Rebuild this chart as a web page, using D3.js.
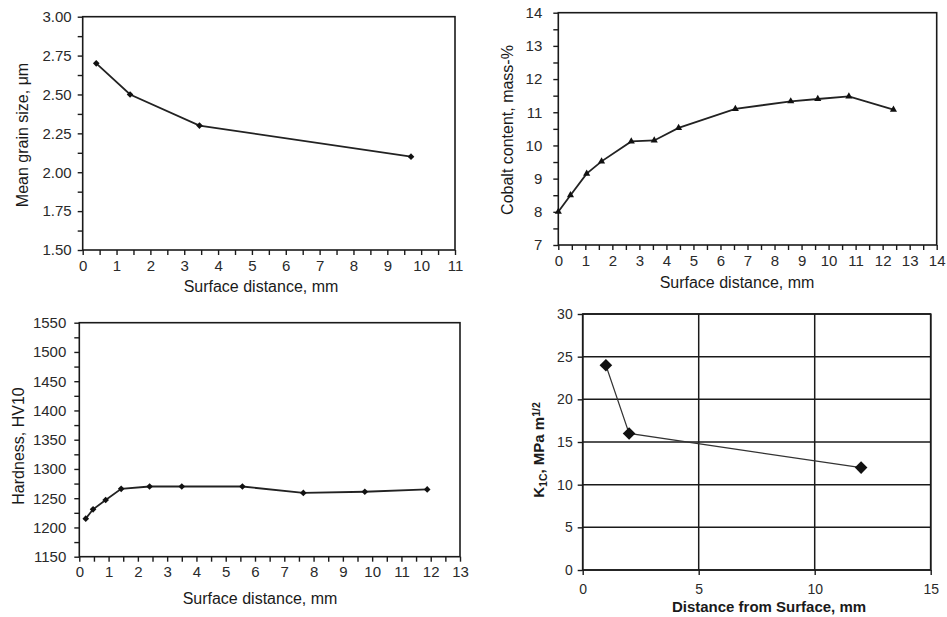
<!DOCTYPE html>
<html><head><meta charset="utf-8">
<script src="https://cdn.jsdelivr.net/npm/d3@7"></script>
<style>
body{margin:0;background:#fff;}
svg{display:block;font-family:"Liberation Sans",Arial,sans-serif;}
</style></head>
<body>
<svg id="c" width="947" height="617"></svg>
<script>
// ---- Data ----
const grainX = [0.4, 1.4, 3.45, 9.7];
const grainY = [2.70, 2.50, 2.30, 2.10];
const grainYTicks = [1.50, 1.75, 2.00, 2.25, 2.50, 2.75, 3.00];

const cobaltX = [0, 0.45, 1.05, 1.6, 2.7, 3.55, 4.45, 6.55, 8.6, 9.6, 10.75, 12.4];
const cobaltY = [8.0, 8.5, 9.15, 9.52, 10.12, 10.15, 10.53, 11.1, 11.33, 11.4, 11.48, 11.08];
const cobaltYTicks = [7, 8, 9, 10, 11, 12, 13, 14];

const hardX = [0.22, 0.47, 0.9, 1.43, 2.4, 3.5, 5.57, 7.65, 9.75, 11.88];
const hardY = [1215, 1231, 1247, 1266, 1270, 1270, 1270, 1259, 1261, 1265];
const hardYTicks = [1150, 1200, 1250, 1300, 1350, 1400, 1450, 1500, 1550];

const kX = [1, 2, 12];
const kY = [24, 16, 12];
const kYTicks = [0, 5, 10, 15, 20, 25, 30];
const kXTicks = [0, 5, 10, 15];

const svg = d3.select("#c");
const ink = "#1a1a1a";

function range(a, b, s){ const r=[]; for(let v=a; v<=b+1e-9; v+=s) r.push(+v.toFixed(4)); return r; }

function panel(o){
  const x = d3.scaleLinear().domain(o.xd).range([o.l, o.r]);
  const y = d3.scaleLinear().domain(o.yd).range([o.b, o.t]);
  const g = svg.append("g");
  // frame
  g.append("rect").attr("x", o.l).attr("y", o.t).attr("width", o.r-o.l).attr("height", o.b-o.t)
    .attr("fill","none").attr("stroke", ink).attr("stroke-width", 1.6);
  // minor ticks
  const xm = g.append("g").attr("transform",`translate(0,${o.b})`)
    .call(d3.axisBottom(x).tickValues(o.xminor).tickSize(5).tickFormat(""));
  const ym = g.append("g").attr("transform",`translate(${o.l},0)`)
    .call(d3.axisLeft(y).tickValues(o.yminor).tickSize(5).tickFormat(""));
  [xm, ym].forEach(a => { a.select(".domain").remove(); a.selectAll("line").attr("stroke", ink).attr("stroke-width", 1.4); });
  // major
  const xa = g.append("g").attr("transform",`translate(0,${o.b})`)
    .call(d3.axisBottom(x).tickValues(o.xticks).tickSize(5).tickPadding(o.xpad).tickFormat(o.xf));
  const ya = g.append("g").attr("transform",`translate(${o.l},0)`)
    .call(d3.axisLeft(y).tickValues(o.yticks).tickSize(5).tickPadding(o.ypad).tickFormat(o.yf));
  [xa, ya].forEach(a => {
    a.select(".domain").remove();
    a.selectAll("line").attr("stroke", ink).attr("stroke-width", 1.4);
    a.selectAll("text").attr("fill", "#2a2a2a").style("font-size", o.tfs + "px").style("font-family","'Liberation Sans',Arial,sans-serif");
  });
  if (o.grid) {
    g.append("g").selectAll("line").data(o.yticks).join("line")
      .attr("x1", o.l).attr("x2", o.r).attr("y1", d=>y(d)).attr("y2", d=>y(d))
      .attr("stroke", ink).attr("stroke-width", 1.5);
    g.append("g").selectAll("line").data(o.xticks).join("line")
      .attr("x1", d=>x(d)).attr("x2", d=>x(d)).attr("y1", o.t).attr("y2", o.b)
      .attr("stroke", ink).attr("stroke-width", 1.5);
  }
  // series
  const pts = o.xs.map((v,i)=>[v, o.ys[i]]);
  g.append("path").datum(pts)
    .attr("d", d3.line().x(d=>x(d[0])).y(d=>y(d[1])))
    .attr("fill","none").attr("stroke", o.lineColor || "#222").attr("stroke-width", o.lw);
  g.append("g").selectAll("path").data(pts).join("path")
    .attr("transform", d=>`translate(${x(d[0])},${y(d[1])}) rotate(${o.rot})`)
    .attr("d", d3.symbol().type(o.sym).size(o.msize))
    .attr("fill", "#111");
  // titles
  g.append("text").attr("x", o.xtx).attr("y", o.xty).attr("text-anchor","middle")
    .attr("fill", ink).style("font-size", o.afs+"px").style("font-weight", o.bold?"bold":"normal")
    .text(o.xlabel);
  const yt = g.append("text").attr("transform", `translate(${o.ytx},${o.yty}) rotate(-90)`)
    .attr("text-anchor","middle").attr("fill", ink)
    .style("font-size", o.afs+"px").style("font-weight", o.bold?"bold":"normal");
  if (o.ylabelParts) {
    o.ylabelParts.forEach(p => {
      const ts = yt.append("tspan").text(p.t);
      if (p.sub) ts.attr("baseline-shift","-25%").style("font-size", (o.afs*0.7)+"px");
      if (p.sup) ts.attr("baseline-shift","40%").style("font-size", (o.afs*0.7)+"px");
    });
  } else yt.text(o.ylabel);
}

panel({
  l:82.7, r:455, t:16.7, b:250, xd:[0,11], yd:[1.5,3.0],
  xticks: range(0,11,1), xminor: range(0.5,10.5,1), yticks: grainYTicks, yminor: range(1.625,2.875,0.25),
  xf: d3.format("d"), yf: d3.format(".2f"), xpad: 5, ypad: 6, tfs: 15,
  xs: grainX, ys: grainY, sym: d3.symbolSquare, rot: 45, msize: 22, lw: 1.8,
  xlabel: "Surface distance, mm", xtx: 261, xty: 292, ylabel: "Mean grain size, μm", ytx: 28, yty: 135, afs: 16
});

panel({
  l:558.3, r:936.7, t:12.7, b:245, xd:[0,14], yd:[7,14],
  xticks: range(0,14,1), xminor: range(0.5,13.5,1), yticks: cobaltYTicks, yminor: range(7.5,13.5,1),
  xf: d3.format("d"), yf: d3.format("d"), xpad: 5, ypad: 11, tfs: 15,
  xs: cobaltX, ys: cobaltY, sym: d3.symbolTriangle, rot: 0, msize: 22, lw: 1.8,
  xlabel: "Surface distance, mm", xtx: 737, xty: 288, ylabel: "Cobalt content, mass-%", ytx: 513, yty: 130, afs: 16
});

panel({
  l:79.3, r:460, t:322.7, b:556.7, xd:[0,13], yd:[1150,1550],
  xticks: range(0,13,1), xminor: range(0.5,12.5,1), yticks: hardYTicks, yminor: range(1175,1525,50),
  xf: d3.format("d"), yf: d3.format("d"), xpad: 5, ypad: 8, tfs: 15,
  xs: hardX, ys: hardY, sym: d3.symbolSquare, rot: 45, msize: 22, lw: 1.8,
  xlabel: "Surface distance, mm", xtx: 260, xty: 604, ylabel: "Hardness, HV10", ytx: 24, yty: 446, afs: 16
});

panel({
  l:582.7, r:930.7, t:314, b:570, xd:[0,15], yd:[0,30],
  xticks: kXTicks, xminor: [], yticks: kYTicks, yminor: [],
  xf: d3.format("d"), yf: d3.format("d"), xpad: 9, ypad: 5, tfs: 14, grid: true,
  xs: kX, ys: kY, sym: d3.symbolSquare, rot: 45, msize: 80, lw: 1.2, lineColor: "#333",
  xlabel: "Distance from Surface, mm", xtx: 769, xty: 612, bold: true, afs: 15,
  ytx: 544, yty: 450,
  ylabelParts: [{t:"K"},{t:"1C", sub:true},{t:", MPa m"},{t:"1/2", sup:true}]
});
</script>
</body></html>
